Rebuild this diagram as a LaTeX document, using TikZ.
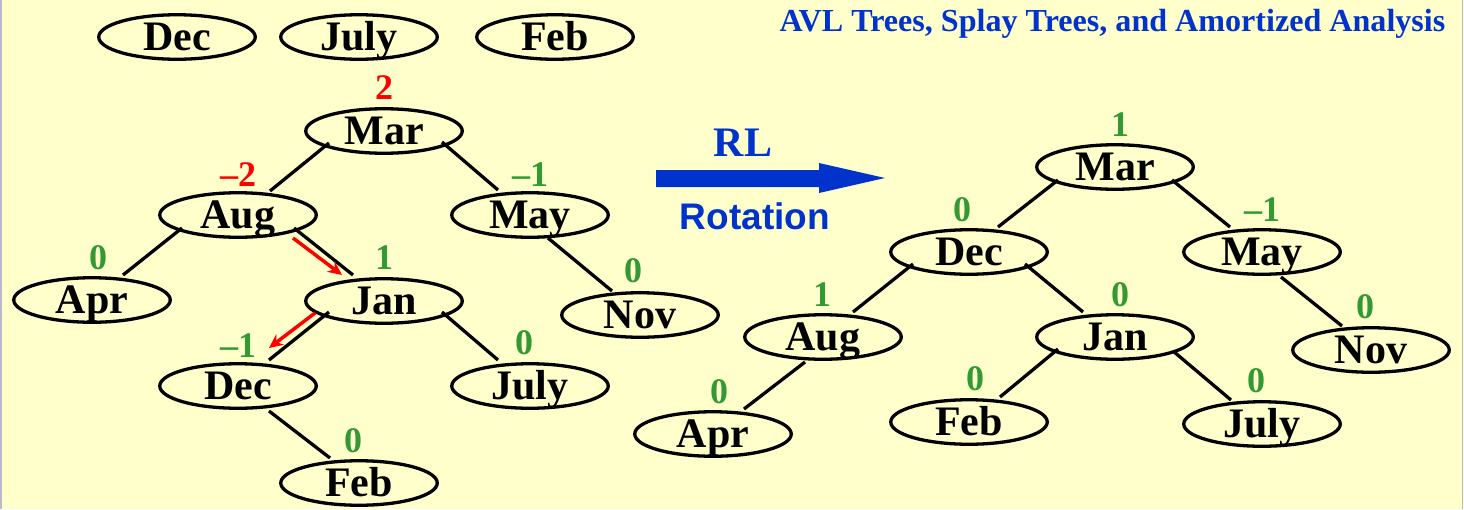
\documentclass[tikz,border=0pt]{standalone}
\usepackage{fontspec}
\setmainfont{Liberation Serif}
\newfontfamily\lsans{Liberation Sans}
\usetikzlibrary{shapes.geometric,arrows.meta,calc}
\definecolor{bgy}{RGB}{255,255,204}
\definecolor{balgreen}{RGB}{51,153,51}
\definecolor{balred}{RGB}{255,0,0}
\definecolor{ttlblue}{RGB}{0,51,204}
\definecolor{edgegray}{RGB}{185,185,200}
\tikzset{
  tnode/.style={ellipse, draw=black, line width=3.3pt, minimum width=156.5pt, minimum height=44.5pt,
    inner sep=0pt, text height=27.5pt, text depth=0pt,
    font=\fontsize{42}{42}\selectfont\bfseries},
  bal/.style={inner sep=0pt, font=\fontsize{36}{36}\selectfont\bfseries},
  gbal/.style={bal, text=balgreen},
  rbal/.style={bal, text=balred},
  edge/.style={line width=3.3pt, black},
  redarr/.style={line width=3.5pt, balred, -{Stealth[length=14pt,width=13pt]}},
}
\begin{document}
\begin{tikzpicture}[x=1pt,y=-1pt]
\fill[bgy] (0,0) rectangle (1464,509);
\useasboundingbox (0,0) rectangle (1464,509);
\draw[edgegray, line width=1.5pt] (0.75,0) -- (0.75,509);
\draw[edgegray, line width=1.5pt] (1462.5,0) -- (1462.5,509);

% title
\node[inner sep=0pt, text=ttlblue, font=\fontsize{32.1}{32.1}\selectfont\bfseries] (title) at (1112.5,24) {AVL Trees, Splay Trees, and Amortized Analysis};

% waiting keys
\node[tnode] (wDec) at (177,37) {Dec};
\node[tnode] (wJuly) at (359,37) {July};
\node[tnode] (wFeb) at (555,37) {Feb};

% left tree
\node[tnode] (LMar) at (384,131) {Mar};
\node[tnode] (LAug) at (238,215) {Aug};
\node[tnode] (LMay) at (530,215) {May};
\node[tnode] (LApr) at (92,300) {Apr};
\node[tnode] (LJan) at (384,301) {Jan};
\node[tnode] (LNov) at (640,315) {Nov};
\node[tnode] (LDec) at (238,386) {Dec};
\node[tnode] (LJuly) at (530,386) {July};
\node[tnode] (LFeb) at (359,483) {Feb};

\draw[edge] ($(LMar)+(-55,12)$) -- ($(LAug)+(32,-24)$);
\draw[edge] ($(LMar)+(58,11)$) -- ($(LMay)+(-32,-25)$);
\draw[edge] ($(LAug)+(-56,13)$) -- ($(LApr)+(31,-25)$);
\draw[edge] ($(LAug)+(56,13)$) -- ($(LJan)+(-31,-26)$);
\draw[edge] ($(LJan)+(-55,11)$) -- ($(LDec)+(31,-26)$);
\draw[edge] ($(LJan)+(58,11)$) -- ($(LJuly)+(-32,-26)$);
\draw[edge] ($(LDec)+(31,25)$) -- ($(LFeb)+(-29,-25)$);
\draw[edge] ($(LMay)+(18,23)$) -- ($(LNov)+(-28,-24)$);

\draw[redarr] ($(LAug)+(55,23)$) -- ($(LJan)+(-42,-26)$);
\draw[redarr] ($(LJan)+(-69,12)$) -- ($(LDec)+(31,-38)$);

\node[rbal] (bLMar) at (384,88) {2};
\node[rbal] (bLAug) at (238,175) {–2};
\node[gbal] (bLMay) at (530,175) {–1};
\node[gbal] (bLApr) at (98,258) {0};
\node[gbal] (bLJan) at (384,258) {1};
\node[gbal] (bLNov) at (633,271) {0};
\node[gbal] (bLDec) at (238,346) {–1};
\node[gbal] (bLJuly) at (524,343) {0};
\node[gbal] (bLFeb) at (353,441) {0};

% rotation arrow
\fill[ttlblue] (656,170) -- (819,170) -- (819,163) -- (885,178) -- (819,193) -- (819,187) -- (656,187) -- cycle;
\node[inner sep=0pt, text=ttlblue, font=\fontsize{42}{42}\selectfont\bfseries] (rl) at (743,143) {RL};
\node[inner sep=0pt, text=ttlblue, font=\lsans\fontsize{37}{37}\selectfont\bfseries] (rot) at (755,216) {Rotation};

% right tree
\node[tnode] (RMar) at (1115,167) {Mar};
\node[tnode] (RDec) at (969,252) {Dec};
\node[tnode] (RMay) at (1262,252) {May};
\node[tnode] (RAug) at (823,337) {Aug};
\node[tnode] (RJan) at (1115,337) {Jan};
\node[tnode] (RNov) at (1371,350) {Nov};
\node[tnode] (RApr) at (713,434) {Apr};
\node[tnode] (RFeb) at (969,422) {Feb};
\node[tnode] (RJuly) at (1262,424) {July};

\draw[edge] ($(RMar)+(-57,13)$) -- ($(RDec)+(29,-25)$);
\draw[edge] ($(RMar)+(57,13)$) -- ($(RMay)+(-32,-25)$);
\draw[edge] ($(RDec)+(-56,12)$) -- ($(RAug)+(30,-25)$);
\draw[edge] ($(RDec)+(56,12)$) -- ($(RJan)+(-32,-25)$);
\draw[edge] ($(RAug)+(-18,25)$) -- ($(RApr)+(31,-25)$);
\draw[edge] ($(RJan)+(-57,12)$) -- ($(RFeb)+(31,-25)$);
\draw[edge] ($(RJan)+(58,14)$) -- ($(RJuly)+(-31,-24)$);
\draw[edge] ($(RMay)+(19,25)$) -- ($(RNov)+(-29,-24)$);

\node[gbal] (bRMar) at (1120,125) {1};
\node[gbal] (bRDec) at (962,210) {0};
\node[gbal] (bRMay) at (1262,210) {–1};
\node[gbal] (bRAug) at (822,295) {1};
\node[gbal] (bRJan) at (1120,295) {0};
\node[gbal] (bRNov) at (1365,307) {0};
\node[gbal] (bRApr) at (719,392) {0};
\node[gbal] (bRFeb) at (975,379) {0};
\node[gbal] (bRJuly) at (1256,381) {0};
\end{tikzpicture}
\end{document}
